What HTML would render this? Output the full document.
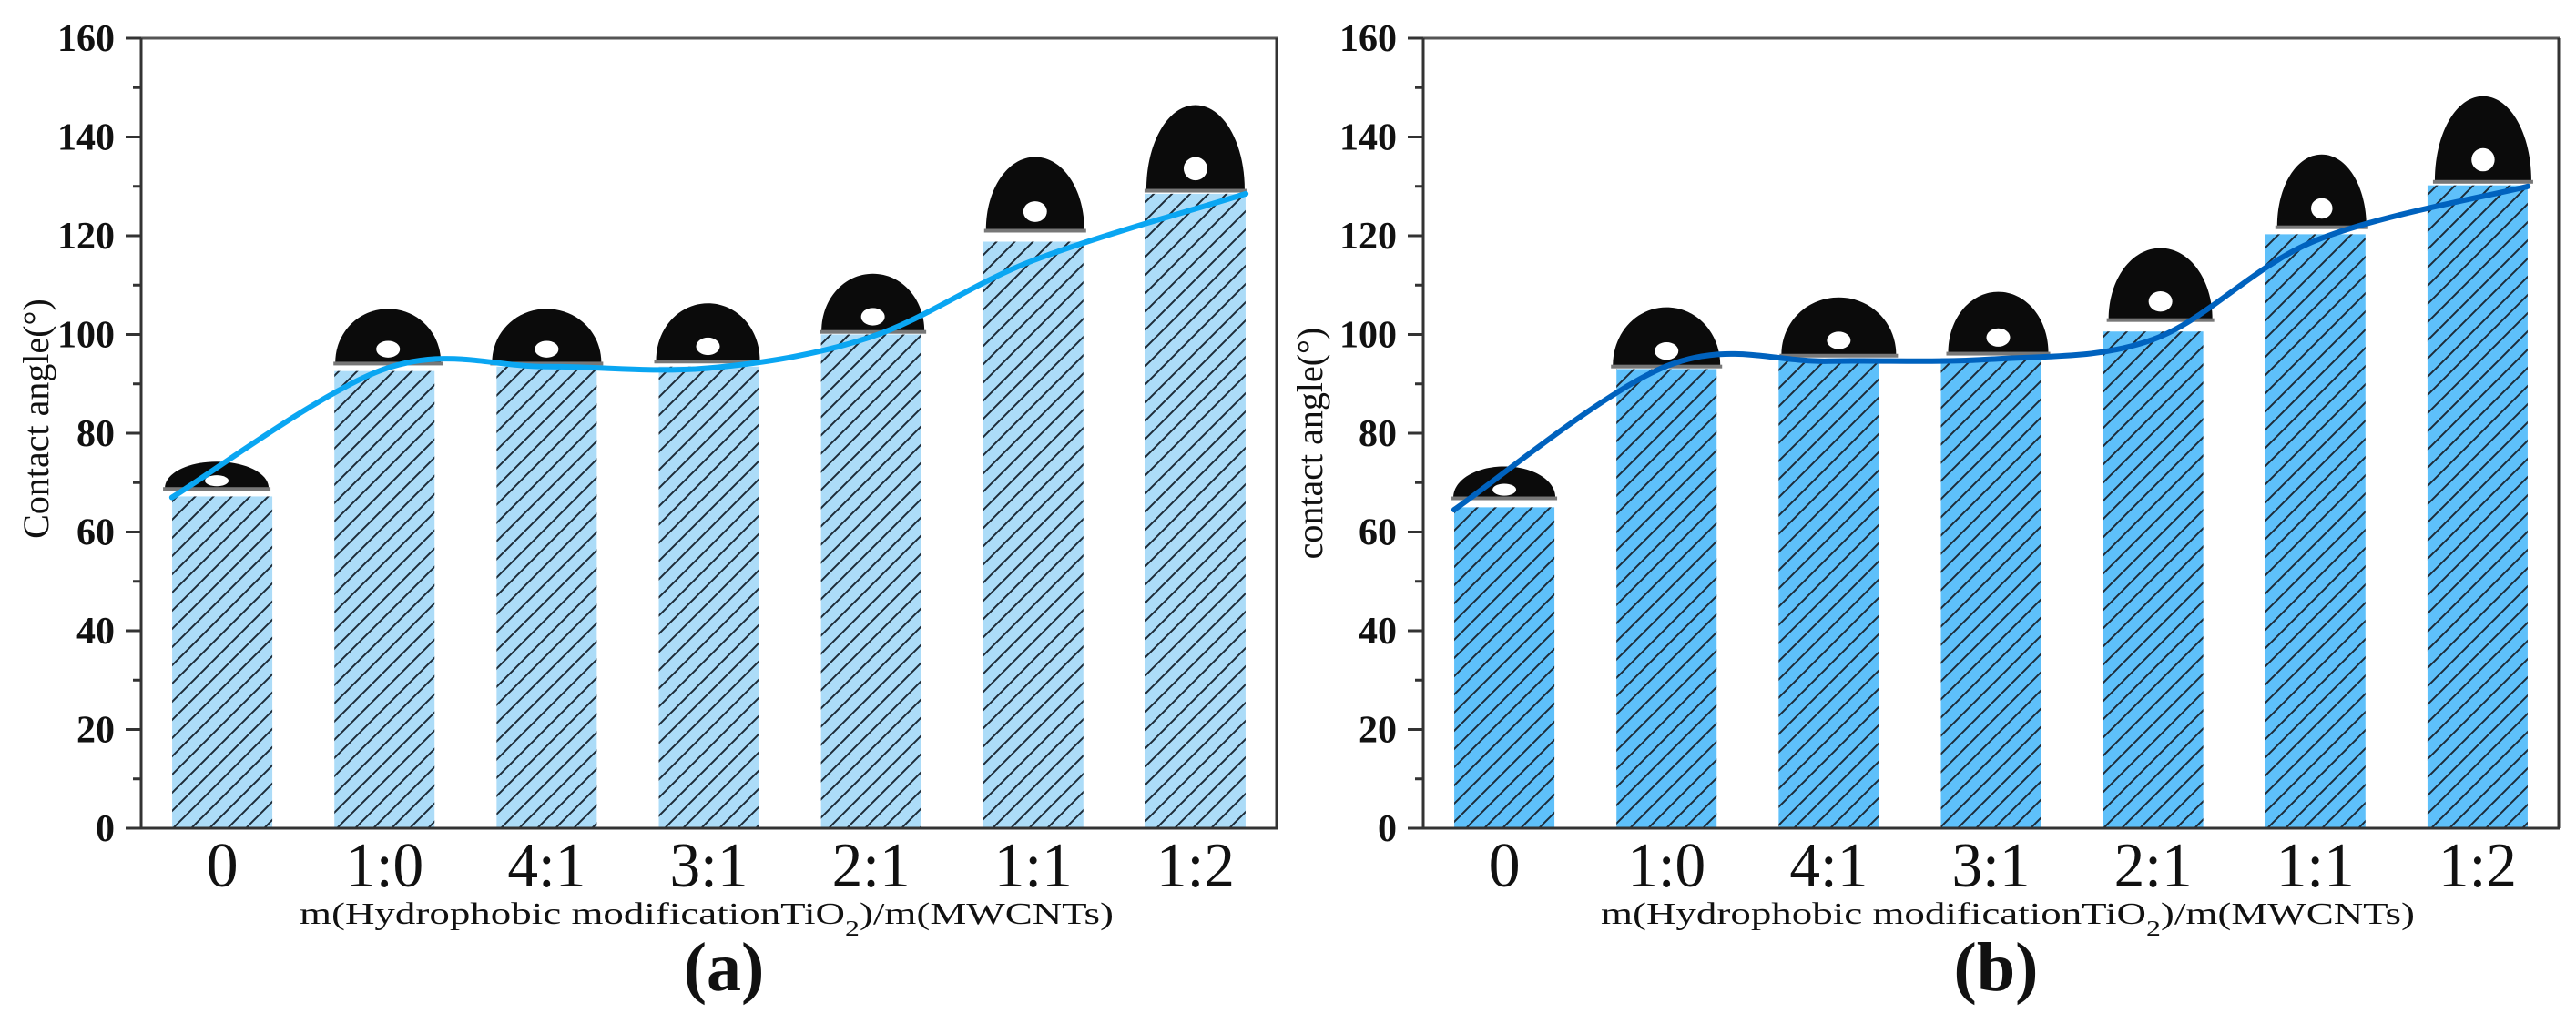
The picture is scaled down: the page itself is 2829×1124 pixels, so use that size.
<!DOCTYPE html>
<html><head><meta charset="utf-8"><style>
html,body{margin:0;padding:0;background:#fff;}
svg{display:block;}
text{font-family:"Liberation Serif",serif;fill:#111;}
</style></head><body>
<svg id="chart" width="2829" height="1124" viewBox="0 0 2829 1124" xmlns="http://www.w3.org/2000/svg">
<defs>
<pattern id="hatch" patternUnits="userSpaceOnUse" width="20" height="20">
<path d="M0,20 L20,0 M-5,5 L5,-5 M15,25 L25,15" stroke="#1d2b38" stroke-width="2"/>
</pattern>
</defs>
</svg>
<script>
const categories = ["0","1:0","4:1","3:1","2:1","1:1","1:2"];
const valuesA = [67.2, 92.6, 93.5, 93.5, 100, 118.8, 128.5];
const valuesB = [65, 93, 94.8, 95.2, 100.6, 120.3, 130.2];
const fitPosA = [-0.31, 1, 2, 3, 4, 5, 6.31];
const fitValA = [67, 93, 93.5, 93.2, 99.5, 115, 128.5];
const fitPosB = [-0.31, 1, 2, 3, 4, 5, 6.31];
const fitValB = [64.5, 93.6, 94.6, 95, 99, 119, 130];
const dropBaseA = [68.9, 94.3, 94.3, 94.7, 100.7, 121.2, 129.3];
const dropBaseB = [67.0, 93.7, 95.9, 96.3, 103.1, 121.9, 131.1];
const yTicks = [0, 20, 40, 60, 80, 100, 120, 140, 160];
const yMinor = [10, 30, 50, 70, 90, 110, 130, 150];

const NS = "http://www.w3.org/2000/svg";
const svg = document.getElementById('chart');
function mk(tag, attrs, parent) {
  const e = document.createElementNS(NS, tag);
  for (const k in attrs) e.setAttribute(k, attrs[k]);
  (parent || svg).appendChild(e);
  return e;
}
const Y0 = 910, YT = 42, W = 1247;
function yScale(v) { return Y0 - v * (Y0 - YT) / 160; }

function panel(cfg) {
  const g = mk('g', {});
  
  
  const L = cfg.left, R = L + W, band = W / categories.length;
  const xScale = i => L + (i + 0.5) * band;
  const bw = 110;
  cfg.values.forEach((v, i) => {
    const x = xScale(i) - bw / 2, y = yScale(v);
    const r1 = mk('rect', {x: x, y: y, width: bw, height: Y0 - y, fill: cfg.barColor}, g);
    
    
    const r2 = mk('rect', {x: x, y: y, width: bw, height: Y0 - y, fill: 'url(#hatch)'}, g);
    
    
  });
  cfg.dropBase.forEach((v, i) => {
    const cx = xScale(i) + cfg.dropDx[i], w = cfg.dropW[i], h = cfg.dropH[i], b = yScale(v);
    const k = 0.56;
    const d = `M${cx - w/2},${b} C${cx - w/2},${b - h*k} ${cx - w*0.5*k},${b - h} ${cx},${b - h} C${cx + w*0.5*k},${b - h} ${cx + w/2},${b - h*k} ${cx + w/2},${b} Z`;
    const p = mk('path', {d: d, fill: '#0b0b0b'}, g);
    
    
    mk('rect', {x: cx - w/2 - 2, y: b - 1, width: w + 4, height: 4, fill: '#777'}, g);
    const hw = Math.min(w * 0.12, 13), hh = Math.min(h * 0.15, 15);
    const hl = mk('ellipse', {cx: cx, cy: b - Math.max(h * 0.25, 8), rx: hw, ry: hh * 0.7 + 3, fill: cfg.hiColor}, g);
    
    
  });
  const pts = cfg.fitPos.map((p, i) => [xScale(p), yScale(cfg.fitVal[i])]);
  let d = `M${pts[0][0]},${pts[0][1]}`;
  for (let i = 0; i < pts.length - 1; i++) {
    const p0 = pts[Math.max(i - 1, 0)], p1 = pts[i], p2 = pts[i + 1], p3 = pts[Math.min(i + 2, pts.length - 1)];
    const c1 = [p1[0] + (p2[0] - p0[0]) / 6, p1[1] + (p2[1] - p0[1]) / 6];
    const c2 = [p2[0] - (p3[0] - p1[0]) / 6, p2[1] - (p3[1] - p1[1]) / 6];
    d += ` C${c1[0]},${c1[1]} ${c2[0]},${c2[1]} ${p2[0]},${p2[1]}`;
  }
  const line = mk('path', {d: d, fill: 'none', stroke: cfg.lineColor, 'stroke-width': 6, 'stroke-linecap': 'round'}, g);
  
  
  const frame = mk('g', {}, g);
  
  
  mk('line', {x1: L - 17, y1: YT, x2: R + 1, y2: YT, stroke: '#555', 'stroke-width': 3}, frame);
  mk('line', {x1: R, y1: YT, x2: R, y2: Y0, stroke: '#333', 'stroke-width': 3}, frame);
  mk('line', {x1: L, y1: YT, x2: L, y2: Y0 + 1, stroke: '#333', 'stroke-width': 3}, frame);
  mk('line', {x1: L - 17, y1: Y0, x2: R + 1, y2: Y0, stroke: '#333', 'stroke-width': 3}, frame);
  const ya = mk('g', {}, g);
  
  
  yTicks.forEach(t => {
    const y = yScale(t);
    mk('line', {x1: L - 17, y1: y, x2: L, y2: y, stroke: '#333', 'stroke-width': 3}, ya);
    const tx = mk('text', {x: L - 29, y: y + 14, 'font-size': 42, 'font-weight': 'bold', 'text-anchor': 'end'}, ya);
    tx.textContent = t;
    
    
  });
  yMinor.forEach(t => {
    const y = yScale(t);
    mk('line', {x1: L - 9, y1: y, x2: L, y2: y, stroke: '#333', 'stroke-width': 3}, ya);
  });
  categories.forEach((c, i) => {
    const tx = mk('text', {x: xScale(i), y: 974, 'font-size': 70, 'text-anchor': 'middle'}, g);
    tx.textContent = c;
    if (c.length > 1) { tx.setAttribute('textLength', 86); tx.setAttribute('lengthAdjust', 'spacingAndGlyphs'); }
    
    
  });
  const yt = mk('text', {x: 0, y: 0, 'font-size': 40, 'text-anchor': 'middle', transform: `translate(${cfg.yTitleX},${cfg.yTitleY}) rotate(-90)`}, g);
  yt.textContent = cfg.yTitle;
  
  
  const xt = mk('text', {x: cfg.xTitleX, y: 1015, 'font-size': 34, 'text-anchor': 'middle', textLength: 894, lengthAdjust: 'spacingAndGlyphs'}, g);
  xt.innerHTML = 'm(Hydrophobic modificationTiO<tspan baseline-shift="sub" font-size="24">2</tspan>)/m(MWCNTs)';
  
  
  const pl = mk('text', {x: cfg.labelX, y: 1088, 'font-size': 76, 'font-weight': 'bold', 'text-anchor': 'middle'}, g);
  pl.textContent = cfg.label;
  
  
}

panel({name: 'panel-a', left: 155, values: valuesA, barColor: '#acdcf8', lineColor: '#0aa6f2',
  fitPos: fitPosA, fitVal: fitValA, dropBase: dropBaseA,
  dropW: [114, 116, 120, 114, 113, 108, 108], dropH: [29, 59, 59, 63, 63, 80, 93], dropDx: [-6, 4, 0, -1, 2, 2, 0],
  hiColor: '#ffffff', yTitle: 'Contact angle(°)', yTitleX: 53, yTitleY: 460, xTitleX: 776, label: '(a)', labelX: 795});
panel({name: 'panel-b', left: 1563, values: valuesB, barColor: '#5ec0fa', lineColor: '#0062be',
  fitPos: fitPosB, fitVal: fitValB, dropBase: dropBaseB,
  dropW: [112, 118, 126, 110, 114, 98, 106], dropH: [34, 64, 63, 67, 78, 79, 93], dropDx: [0, 0, 11, 8, 8, 7, 6],
  hiColor: '#ffffff', yTitle: 'contact angle(°)', yTitleX: 1452, yTitleY: 487, xTitleX: 2205, label: '(b)', labelX: 2192});
</script>
</body></html>
